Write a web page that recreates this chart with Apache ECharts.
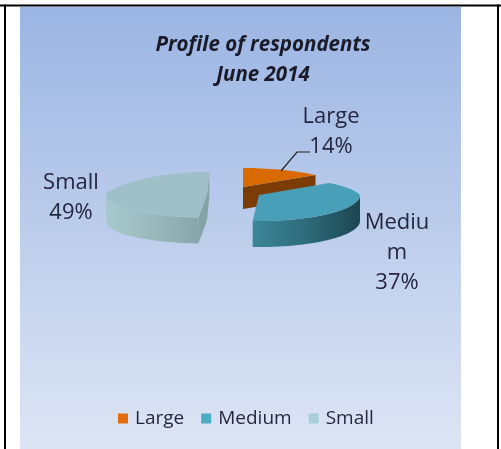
<!DOCTYPE html>
<html><head><meta charset="utf-8">
<style>html,body{margin:0;padding:0;background:#fff}#c{width:501px;height:449px;filter:blur(0.4px)}</style>
<script src="https://cdn.jsdelivr.net/npm/echarts@6/dist/echarts.min.js"></script>
</head><body><div id="c"></div>
<script>
const categories = ['Large', 'Medium', 'Small'];
const shares = [14, 37, 49];
const labelNames = ['Large', 'Mediu\nm', 'Small'];
const titleLines = ['Profile of respondents', 'June 2014'];

const FONT = '"Open Sans", sans-serif';
const TEXT = '#262640';
const START = 270;
const colors = ['#e46c0a', '#4bacc6', '#a9ced8'];
const looks = [
  {apex:[243,187], rx:104, back:19, front:26, depth:22, tilt:0, top:'#d96a02', wall:'#7c3c06',
   label:[331,132]},
  {apex:[259,195], rx:101, back:19, front:26, depth:26, tilt:0, top:'#47a0b8',
   grad:['#3b8798','#2d6b7b','#1d4651'], label:[397,253]},
  {apex:[207,194.5], rx:101, back:22.5, front:23, depth:26, tilt:0.1, top:'#9fc0c8',
   grad:['#a7c9ce','#9ab9bd','#88a6a9'], face:'#83a3a6', label:[71,198]}
];

function pt(l, deg) {
  const a = deg * Math.PI / 180, c = Math.cos(a), s = Math.sin(a);
  const shrink = 1 - 0.15 * Math.max(0, -s);
  const dy = (s > 0 ? l.front : l.back) * s;
  return [l.apex[0] + l.rx * c * shrink - l.tilt * dy, l.apex[1] + dy];
}
function arc(l, a, b) {
  const out = [], n = Math.max(2, Math.ceil(Math.abs(b - a) / 3));
  for (let i = 0; i <= n; i++) out.push(pt(l, a + (b - a) * i / n));
  return out;
}
const down = (p, d) => [p[0], p[1] + d];
const hGrad = (cols) => ({type:'linear', x:0, y:0, x2:1, y2:0,
  colorStops: cols.map((c,i)=>({offset:i/(cols.length-1), color:c}))});

function spans() {
  const total = shares.reduce((a,b)=>a+b,0);
  let cur = START;
  return shares.map(v => { const s = cur; cur += v / total * 360; return [s, cur]; });
}
function sliceRender(idx) {
  return function () {
    const l = looks[idx], [a, b] = spans()[idx], kids = [];
    const poly = (points, fill) => kids.push({type:'polygon', shape:{points}, style:{fill}, silent:true});
    if (idx === 0) {
      const e = pt(l, b);
      poly([l.apex, e, down(e,l.depth), down(l.apex,l.depth)], l.wall);
    }
    if (idx === 1) {
      const front = arc(l, b - 360, 0).reverse();
      const lower = front.map(p => down(p,l.depth)).reverse();
      poly(front.concat(lower), hGrad(l.grad));
    }
    if (idx === 2) {
      const s = a - 360, e = b - 360;
      const st = pt(l, s), en = pt(l, e);
      poly([en, l.apex, st, down(st,l.depth), down(l.apex,l.depth), down(en,l.depth)], l.face);
      const front = arc(l, s, 180);
      const lower = front.map(p => down(p,l.depth)).reverse();
      poly(front.concat(lower), hGrad(l.grad));
    }
    poly([l.apex].concat(arc(l, a, b)), l.top);
    kids.push({type:'text', silent:true, style:{
      x:l.label[0], y:l.label[1], text:labelNames[idx] + '\n' + shares[idx] + '%',
      align:'center', verticalAlign:'middle', fill:TEXT, font:'22px ' + FONT, lineHeight:30
    }});
    if (idx === 0) {
      kids.push({type:'polyline', silent:true, shape:{points:[[281,171],[297,152],[310,152]]},
        style:{stroke:'#222', lineWidth:1.2, fill:'none'}});
    }
    return {type:'group', children:kids};
  };
}

const chart = echarts.init(document.getElementById('c'), null, {renderer:'canvas'});
chart.setOption({
  animation:false,
  backgroundColor:'#fff',
  title:{
    text:titleLines.join('\n'), left:258, top:25, textAlign:'center',
    textStyle:{fontFamily:FONT, fontStyle:'italic', fontWeight:'bold', fontSize:20.5, color:'#1a1a28', lineHeight:30}
  },
  legend:{
    data:categories, left:113, top:404, icon:'rect', itemWidth:10, itemHeight:10, itemGap:17,
    textStyle:{fontFamily:FONT, fontSize:19, color:TEXT, padding:[0,0,0,2]}
  },
  graphic:{elements:[
    {type:'rect', z:-10, silent:true, shape:{x:20,y:7,width:441,height:442},
     style:{fill:{type:'linear',x:0,y:0,x2:0,y2:1,colorStops:[{offset:0,color:'#9bb5e3'},{offset:1,color:'#dde5f4'}]}}},
    {type:'rect', z:-9, silent:true, shape:{x:0,y:4.5,width:501,height:2}, style:{fill:'#000'}},
    {type:'rect', z:-9, silent:true, shape:{x:4,y:4.5,width:2,height:445}, style:{fill:'#000'}},
    {type:'rect', z:-9, silent:true, shape:{x:497,y:4.5,width:2,height:445}, style:{fill:'#000'}}
  ]},
  series: categories.map((name,i)=>({
    type:'custom', name, coordinateSystem:'none', data:[[shares[i]]],
    itemStyle:{color:colors[i]}, renderItem:sliceRender(i), silent:true, clip:false
  }))
});
</script></body></html>
